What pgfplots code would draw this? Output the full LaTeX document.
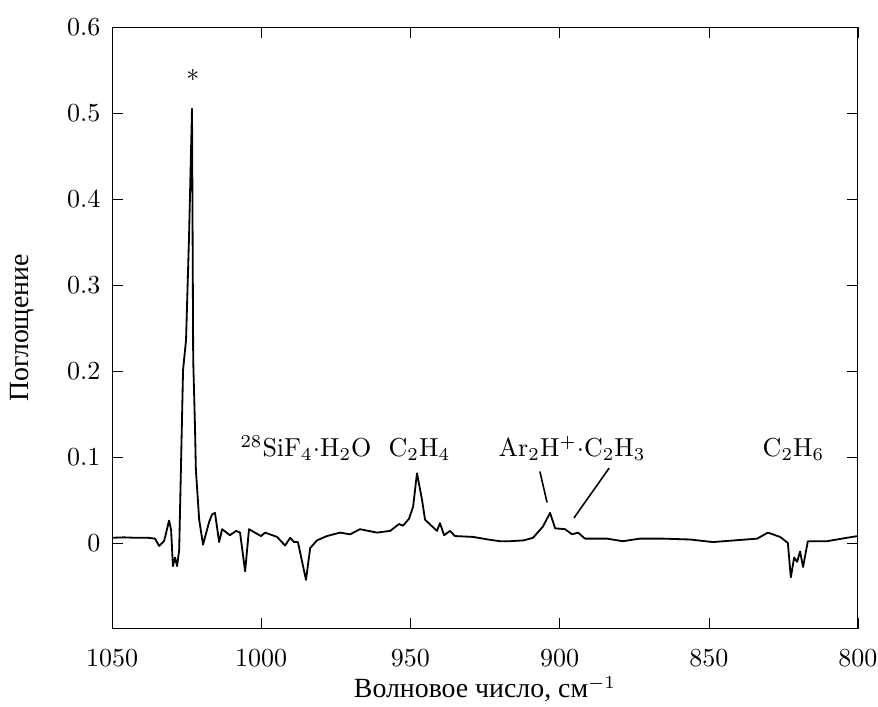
\documentclass[border=0pt]{standalone}
\usepackage{fontspec}
\usepackage{pgfplots}
\pgfplotsset{compat=1.18}
\newfontfamily\cyr[Scale=1.07]{Liberation Serif}
\begin{document}
\begin{tikzpicture}
\useasboundingbox (-43.1pt,-30pt) rectangle (294.6pt,241.9pt);
\begin{axis}[
  scale only axis,
  width=286.9pt, height=231.5pt,
  x dir=reverse,
  xmin=800, xmax=1050,
  ymin=-0.1, ymax=0.6,
  xtick={800,850,900,950,1000,1050},
  ytick={0,0.1,0.2,0.3,0.4,0.5,0.6},
  yticklabel style={/pgf/number format/fixed,/pgf/number format/precision=1, xshift=-1pt},
  xticklabel style={/pgf/number format/set thousands separator={}, yshift=-4.5pt},
  xlabel={{\cyr Волновое число, см}$^{-1}$},
  ylabel={{\cyr Поглощение}},
  xlabel style={at={(axis description cs:0.5,0)}, yshift=-26.5pt, anchor=base, inner sep=0pt},
  ylabel style={at={(axis description cs:-0.1206,0.5)}, anchor=center, inner sep=0pt},
  tick style={black},
  clip=false,
]
\addplot[black, line width=0.7pt, line join=round] coordinates {
(1050.0,0.006) (1046,0.0065) (1042.3,0.006) (1038,0.006) (1035.6,0.005) (1034.2,-0.0035) (1032.6,0.002) (1032.2,0.007)
(1030.9,0.026) (1030.2,0.015) (1029.6,-0.027) (1028.9,-0.017) (1028.2,-0.027) (1027.5,-0.008)
(1026.2,0.201) (1025.2,0.236) (1024.2,0.356) (1023.2,0.505) (1022.8,0.213) (1022.2,0.135)
(1021.9,0.085) (1020.8,0.027) (1019.5,-0.002) (1017.5,0.024) (1016.5,0.033) (1015.5,0.035)
(1014.1,0.001) (1013.1,0.016) (1010.5,0.009) (1008.4,0.014) (1007.1,0.012) (1005.4,-0.033)
(1004.1,0.016) (1002.1,0.012) (1000.1,0.008) (998.7,0.012) (994.7,0.007) (992.0,-0.003)
(990.3,0.006) (989.0,0.001) (987.7,0.001) (985.0,-0.043) (983.6,-0.006) (981.3,0.003)
(978.0,0.008) (973.6,0.012) (970.2,0.010) (966.9,0.016) (961.2,0.012) (956.8,0.014)
(953.8,0.022) (952.5,0.020) (950.5,0.028) (949.1,0.042) (947.8,0.081) (946.1,0.050)
(945.1,0.027) (941.1,0.014) (940.1,0.023) (938.7,0.009) (936.7,0.014) (935.1,0.008)
(929.0,0.007) (924,0.004) (920.0,0.002) (916.6,0.002) (912,0.003) (908.9,0.006) (905.6,0.019) (903.2,0.035)
(901.5,0.017) (898.2,0.016) (895.8,0.010) (893.8,0.012) (891.5,0.005) (884.1,0.005)
(878.8,0.002) (873.1,0.005) (865.4,0.005) (856.3,0.004) (848.6,0.001) (833.8,0.005)
(830.2,0.012) (826.1,0.007) (823.5,0.0) (822.5,-0.040) (821.4,-0.017) (820.4,-0.022)
(819.4,-0.010) (818.4,-0.028) (816.8,0.002) (810.4,0.002) (803.7,0.006) (800.0,0.008)
};
\draw[black, line width=0.6pt] (axis cs:906.6,0.083) -- (axis cs:904.2,0.047);
\draw[black, line width=0.6pt] (axis cs:883.4,0.087) -- (axis cs:895.2,0.029);
\node at (axis cs:1022.9,0.544) {$\ast$};
\node[anchor=base] at (axis cs:985.0,0.1) {$^{28}\mathrm{SiF_4{\cdot}H_2O}$};
\node[anchor=base] at (axis cs:947.0,0.1) {$\mathrm{C_2H_4}$};
\node[anchor=base] at (axis cs:895.8,0.1) {$\mathrm{Ar_2H^+{\cdot}C_2H_3}$};
\node[anchor=base] at (axis cs:821.6,0.1) {$\mathrm{C_2H_6}$};
\end{axis}
\end{tikzpicture}
\end{document}
